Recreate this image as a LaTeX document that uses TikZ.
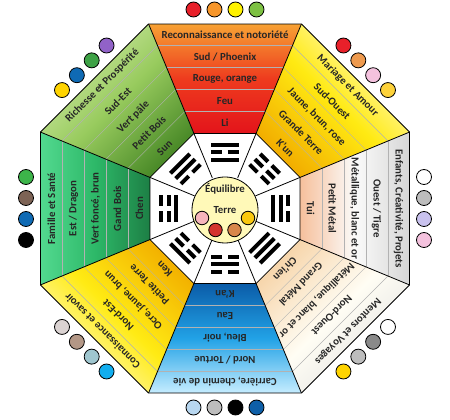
\documentclass[tikz,border=0pt]{standalone}
\usepackage{fontspec}
\setmainfont{Carlito}
\usetikzlibrary{calc}

% sector colours: outer / middle / inner
\definecolor{liT}{HTML}{F7A234}
\definecolor{liM}{HTML}{EE3B1E}
\definecolor{liB}{HTML}{E3141B}
\definecolor{kunT}{HTML}{FFFCD2}
\definecolor{kunM}{HTML}{FFEA12}
\definecolor{kunB}{HTML}{F2AE00}
\definecolor{tuiT}{HTML}{D6D6D6}
\definecolor{tuiM}{HTML}{FBFBFA}
\definecolor{tuiB}{HTML}{F6C09C}
\definecolor{qianT}{HTML}{E2E2E2}
\definecolor{qianM}{HTML}{FFFDF4}
\definecolor{qianB}{HTML}{F7D6AC}
\definecolor{kanT}{HTML}{C6EDFF}
\definecolor{kanM}{HTML}{22A2E6}
\definecolor{kanB}{HTML}{0B5CA8}
\definecolor{kenT}{HTML}{FFFBD6}
\definecolor{kenM}{HTML}{FFEB14}
\definecolor{kenB}{HTML}{F3B200}
\definecolor{chenT}{HTML}{52D98F}
\definecolor{chenM}{HTML}{2DB868}
\definecolor{chenB}{HTML}{1D7F45}
\definecolor{sunT}{HTML}{D3EBAA}
\definecolor{sunM}{HTML}{98CB5E}
\definecolor{sunB}{HTML}{4A8A28}
% dot colours
\definecolor{dRed}{HTML}{E8202A}
\definecolor{dOrange}{HTML}{F7962A}
\definecolor{dYellow}{HTML}{FFF200}
\definecolor{dGreen}{HTML}{7DC143}
\definecolor{dApricot}{HTML}{EE9A4E}
\definecolor{dPink}{HTML}{F4C2DE}
\definecolor{dGold}{HTML}{FDD23A}
\definecolor{dGray}{HTML}{BDBDBD}
\definecolor{dLilac}{HTML}{C9C2EE}
\definecolor{dDark}{HTML}{8A8A8A}
\definecolor{dSun}{HTML}{FFD400}
\definecolor{dSky}{HTML}{B8D7F0}
\definecolor{dNavy}{HTML}{0E5FA8}
\definecolor{dCyan}{HTML}{12AEEF}
\definecolor{dTeal}{HTML}{9FC6CF}
\definecolor{dTan}{HTML}{B39786}
\definecolor{dBeige}{HTML}{DBD3D2}
\definecolor{dLeaf}{HTML}{3DB54A}
\definecolor{dBrown}{HTML}{7D6355}
\definecolor{dBlue}{HTML}{0F6AB4}
\definecolor{dPurple}{HTML}{9162C8}
\definecolor{dMoss}{HTML}{3EA246}
\definecolor{centre}{HTML}{FFF9B8}
\definecolor{cPink}{HTML}{F6B5BC}
\definecolor{cRed}{HTML}{D3332E}
\definecolor{cBrown}{HTML}{D8864A}
\definecolor{cYellow}{HTML}{F9C80E}

\begin{document}
\begin{tikzpicture}[x=1pt,y=1pt,
    band/.style={font=\fontsize{10.8}{12}\selectfont\bfseries, text=black!85, inner sep=0pt},
    sep/.style={draw=black!30, line width=0.4pt},
    dot/.style={circle, draw=black, line width=0.8pt, minimum size=15pt, inner sep=0pt},
    yao/.style={line width=4pt}]
    \useasboundingbox (-225,-211.5) rectangle (225,208.5);

    % the eight sectors, trigrams and dots
    \foreach \a/\ct/\cm/\cb/\ya/\yb/\yc/\da/\db/\dc/\dd in {
        90/liT/liM/liB/1/0/1/dRed/dOrange/dYellow/dGreen,
        45/kunT/kunM/kunB/0/0/0/dRed/dApricot/dPink/dGold,
        0/tuiT/tuiM/tuiB/1/1/0/white/dGray/dLilac/dPink,
        -45/qianT/qianM/qianB/1/1/1/white/dDark/dGray/dSun,
        -90/kanT/kanM/kanB/0/1/0/dNavy/black/dGray/dSky,
        -135/kenT/kenM/kenB/0/0/1/dCyan/dTeal/dTan/dBeige,
        180/chenT/chenM/chenB/1/0/0/black/dBlue/dBrown/dLeaf,
        135/sunT/sunM/sunB/0/1/1/dSun/dBlue/dMoss/dPurple} {
        \pgfmathsetmacro\sa{\a-90}
        \shade[top color=\ct, bottom color=\cb, middle color=\cm, shading angle=\sa]
            (\a-22.5:199.7) -- (\a+22.5:199.7) -- (\a+22.5:81.2) -- (\a-22.5:81.2) -- cycle;
        \foreach \h in {97,119,141,163}
            \draw[sep] (\a-22.5:\h/0.92388) -- (\a+22.5:\h/0.92388);
        \begin{scope}[rotate=\sa]
            \foreach \b [count=\j] in {\ya,\yb,\yc} {
                \pgfmathsetmacro\r{41+7.5*\j}
                \ifnum\b=1
                    \draw[yao] (-13.75,\r) -- (13.75,\r);
                \else
                    \draw[yao] (-13.75,\r) -- (-2.75,\r) (2.75,\r) -- (13.75,\r);
                \fi
            }
            \foreach \c [count=\i] in {\da,\db,\dc,\dd}
                \node[dot, fill=\c] (d\a-\i) at ({21*\i-52.5},199) {};
        \end{scope}
    }

    % outlines
    \draw[line width=0.9pt] (22.5:199.7) \foreach \a in {67.5,112.5,...,337.5} { -- (\a:199.7) } -- cycle;
    \draw[line width=0.8pt] (22.5:81.2) \foreach \a in {67.5,112.5,...,337.5} { -- (\a:81.2) } -- cycle;
    \foreach \a in {22.5,67.5,...,337.5}
        \draw[line width=0.8pt] (\a:199.7) -- (\a:33);

    % texts, outer band first
    \foreach \t [count=\k] in {Reconnaissance et notoriété, Sud / Phoenix, {Rouge, orange}, Feu, Li}
        \node[band] (s-\k) at (90:{195.5-22*\k}) {\t};
    \foreach \t [count=\k] in {Mariage et Amour, Sud-Ouest, {Jaune, brun, rose}, Grande Terre, K'un}
        \node[band, rotate=-45] (so-\k) at (45:{195.5-22*\k}) {\t};
    \foreach \t [count=\k] in {{Enfants, Créativité, Projets}, Ouest / Tigre, {Métallique, blanc et or}, Petit Métal, Tui}
        \node[band, rotate=-90] (o-\k) at (0:{195.5-22*\k}) {\t};
    \foreach \t [count=\k] in {Mentors et Voyages, Nord-Ouest, {Métallique, blanc et or}, Grand Métal, Ch'ien}
        \node[band, rotate=-135] (no-\k) at (-45:{195.5-22*\k}) {\t};
    \foreach \t [count=\k] in {{Carrière, chemin de vie}, Nord / Tortue, {Bleu, noir}, Eau, K'an}
        \node[band, rotate=180] (n-\k) at (-90:{195.5-22*\k}) {\t};
    \foreach \t [count=\k] in {Connaissance et savoir, Nord-Est, {Ocre, jaune, brun}, Petite Terre, Ken}
        \node[band, rotate=135] (ne-\k) at (-135:{195.5-22*\k}) {\t};
    \foreach \t [count=\k] in {Famille et Santé, Est / Dragon, {Vert foncé, brun}, Gand Bois, Chen}
        \node[band, rotate=90] (e-\k) at (180:{195.5-22*\k}) {\t};
    \foreach \t [count=\k] in {Richesse et Prospérité, Sud-Est, Vert pâle, Petit Bois, Sun}
        \node[band, rotate=45] (se-\k) at (135:{195.5-22*\k}) {\t};

    % centre
    \node[circle, draw, fill=centre, line width=0.8pt, minimum size=66pt] (c) at (0,-1.5) {};
    \node[band] (eq) at (0,19.5) {Équilibre};
    \node[band] (te) at (0,-1.5) {Terre};
    \node[dot, minimum size=13.5pt, fill=cPink] (c1) at (-23,-9.5) {};
    \node[dot, minimum size=13.5pt, fill=cRed] (c2) at (-9.5,-21.5) {};
    \node[dot, minimum size=13.5pt, fill=cBrown] (c3) at (9.5,-21.5) {};
    \node[dot, minimum size=13.5pt, fill=cYellow] (c4) at (23,-9.5) {};
\end{tikzpicture}
\end{document}
